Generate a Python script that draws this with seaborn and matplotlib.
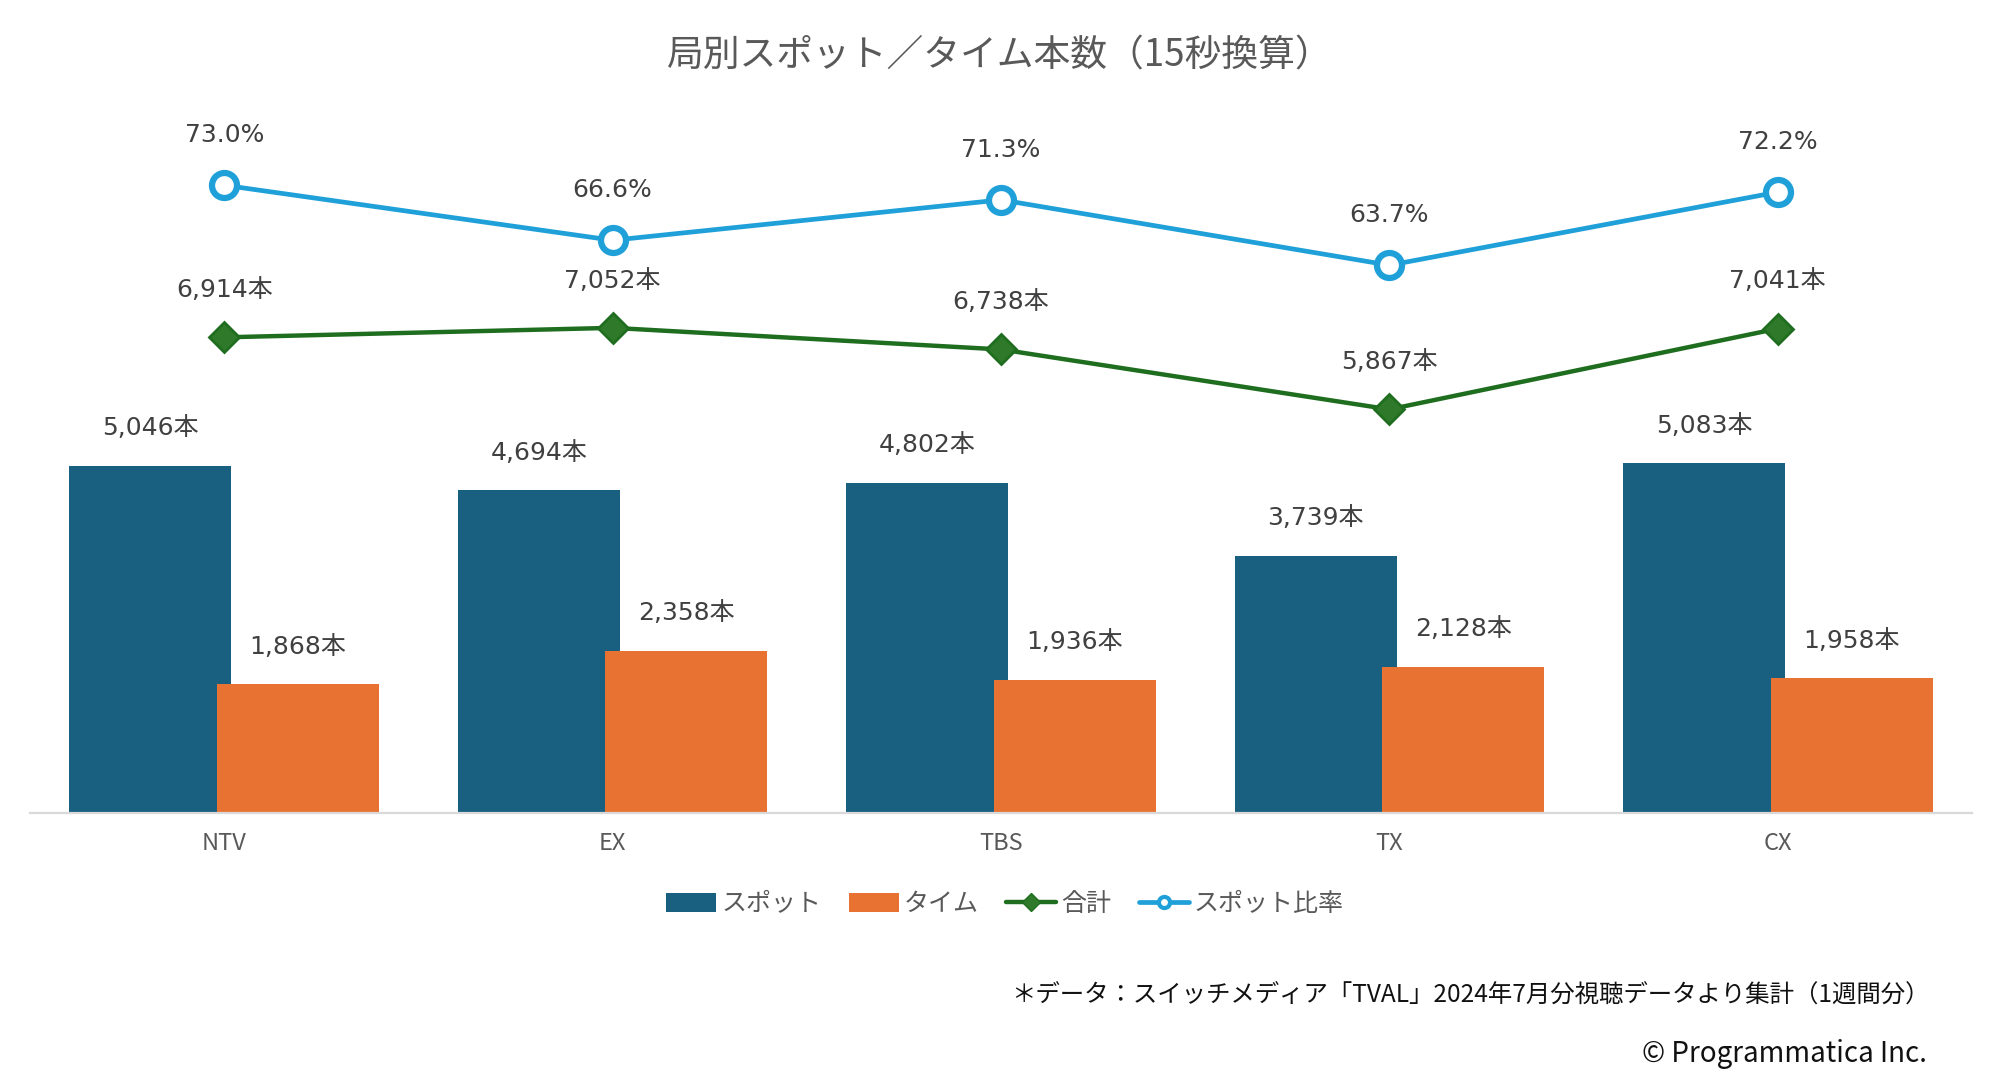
import pandas as pd
import matplotlib.pyplot as plt
import seaborn as sns
import numpy as np
from matplotlib.patches import Patch
from matplotlib.lines import Line2D

stations = ['NTV', 'EX', 'TBS', 'TX', 'CX']
spot = [5046, 4694, 4802, 3739, 5083]
time_ = [1868, 2358, 1936, 2128, 1958]
total = [6914, 7052, 6738, 5867, 7041]
ratio = [73.0, 66.6, 71.3, 63.7, 72.2]
series = ['スポット', 'タイム']

SPOT_C = '#185F80'
TIME_C = '#E87232'
GREEN = '#1F6E1F'
BLUE = '#1FA0D8'
JP = ['Noto Sans CJK JP', 'DejaVu Sans']
NUM = ['DejaVu Sans', 'Noto Sans CJK JP']

sns.set_style('white')
plt.rcParams['font.family'] = JP

df = pd.DataFrame({
    'station': stations * 2,
    'series': [series[0]] * 5 + [series[1]] * 5,
    'value': spot + time_,
})

fig = plt.figure(figsize=(20, 10.91), dpi=100)
ax = fig.add_axes([0.015, 0.2548, 0.971, 0.6306])

sns.barplot(data=df, x='station', y='value', hue='series', order=stations,
            hue_order=series, palette=[SPOT_C, TIME_C], width=0.76,
            saturation=1, legend=False, ax=ax)
# widen bars slightly so they overlap a bit like the original
for p in ax.patches:
    c = p.get_x() + p.get_width() / 2
    p.set_width(0.417)
    p.set_x(c - 0.417 / 2)
    p.set_edgecolor('none')

sns.pointplot(x=stations, y=total, color=GREEN, marker='D', markersize=15,
              linewidth=3.2, markerfacecolor='#2E7A2A', markeredgecolor=GREEN,
              markeredgewidth=2, ax=ax)

ax2 = ax.twinx()
sns.pointplot(x=stations, y=ratio, color=BLUE, marker='o', markersize=18,
              linewidth=3.4, markerfacecolor='white', markeredgecolor=BLUE,
              markeredgewidth=4.5, ax=ax2)

ax.set_xlim(-0.5, 4.5)
ax.set_ylim(0, 10000)
ax2.set_ylim(0, 80)

# labels
for cont in ax.containers[:2]:
    for bar in cont:
        h = bar.get_height()
        ax.annotate(f'{int(round(h)):,}本', (bar.get_x() + bar.get_width() / 2, h),
                    xytext=(0, 27), textcoords='offset points', ha='center',
                    va='center', fontsize=18, color='#404040', family=NUM)
for i, v in enumerate(total):
    ax.annotate(f'{v:,}本', (i, v), xytext=(0, 34), textcoords='offset points',
                ha='center', va='center', fontsize=18, color='#404040', family=NUM)
for i, v in enumerate(ratio):
    ax2.annotate(f'{v:.1f}%', (i, v), xytext=(0, 36), textcoords='offset points',
                 ha='center', va='center', fontsize=18, color='#404040', family=NUM)

for a in (ax, ax2):
    for s in ['top', 'right', 'left']:
        a.spines[s].set_visible(False)
    a.set_yticks([])
    a.set_ylabel('')
    a.set_xlabel('')
ax2.spines['bottom'].set_visible(False)
ax.spines['bottom'].set_color('#D9D9D9')
ax.spines['bottom'].set_linewidth(1.6)
ax.tick_params(axis='x', length=0, pad=14, labelsize=17, labelcolor='#595959')

fig.text(0.5, 0.9487, '局別スポット／タイム本数（15秒換算）', ha='center',
         va='center', fontsize=26.5, color='#595959')

handles = [
    Patch(facecolor=SPOT_C, edgecolor='none'),
    Patch(facecolor=TIME_C, edgecolor='none'),
    Line2D([0], [0], color=GREEN, lw=3.2, marker='D', ms=9,
           mfc='#2E7A2A', mec=GREEN),
    Line2D([0], [0], color=BLUE, lw=3.4, marker='o', ms=8,
           mfc='white', mec=BLUE, mew=3),
]
fig.legend(handles, ['スポット', 'タイム', '合計', 'スポット比率'],
           loc='center', bbox_to_anchor=(0.5025, 0.1714), ncol=4, frameon=False,
           fontsize=18, labelcolor='#595959', handlelength=2.0,
           handleheight=0.8, handletextpad=0.2, columnspacing=1.1)

fig.text(0.9648, 1 - 996 / 1091,
         '＊データ：スイッチメディア「TVAL」2024年7月分視聴データより集計（1週間分）',
         ha='right', va='center', fontsize=17.6, color='#111111')
fig.text(0.9635, 1 - 1054 / 1091, '© Programmatica Inc.', ha='right',
         va='center', fontsize=20, color='#111111')

fig.savefig('out.png', dpi=100, facecolor='white')
